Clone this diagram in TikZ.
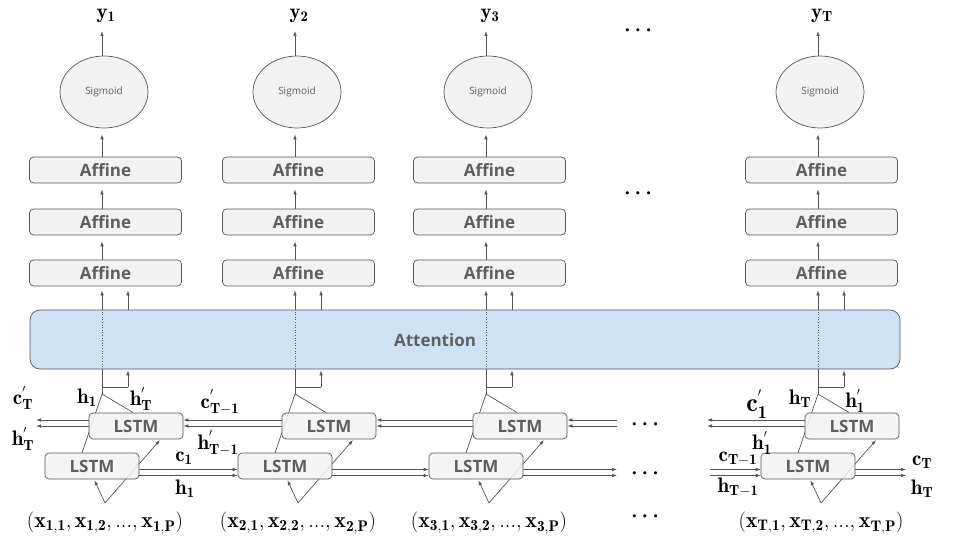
\documentclass[tikz,border=0pt]{standalone}
\usepackage{fontspec}
\newfontfamily\boxfont{Open Sans}
\usetikzlibrary{arrows.meta,calc,shapes.geometric}
\definecolor{lnc}{HTML}{555555}
\definecolor{bx}{HTML}{F2F2F2}
\definecolor{tx}{HTML}{5F5F5F}
\definecolor{attc}{HTML}{CFE2F3}
\tikzset{
  ln/.style={draw=lnc, line width=0.7pt},
  arr/.style={ln, -{Latex[length=5pt,width=3.6pt]}},
  afbox/.style={draw=lnc, fill=bx, rounded corners=4pt, minimum width=152pt, minimum height=26pt,
    inner sep=0pt, font=\boxfont\bfseries\fontsize{17}{20}\selectfont, text=tx, line width=0.7pt},
  lstmbox/.style={afbox, minimum width=94pt, fill opacity=0.88, text opacity=1},
  sigbox/.style={ellipse, draw=lnc, fill=bx, minimum width=88pt, minimum height=72pt, inner sep=0pt,
    font=\boxfont\fontsize{10}{12}\selectfont, text=tx, line width=0.7pt},
  attbox/.style={draw=lnc, fill=attc, rounded corners=10pt, minimum width=870pt, minimum height=59pt,
    inner sep=0pt, line width=0.7pt},
  lab/.style={inner sep=0pt, font=\fontsize{21}{24}\selectfont},
  inlab/.style={inner sep=0pt, font=\fontsize{22}{26}\selectfont},
  biglab/.style={inner sep=0pt, font=\fontsize{26}{30}\selectfont},
  dots/.style={inner sep=0pt, font=\fontsize{22}{26}\selectfont\boldmath},
}
\begin{document}
\begin{tikzpicture}[x=1pt,y=-1pt]
\useasboundingbox (0,0) rectangle (960,540);

% attention
\node[attbox] (att) at (465,339.5) {};
\node[font=\boxfont\bfseries\fontsize{17}{20}\selectfont, text=tx, inner sep=0pt] (atttxt) at (435,340) {Attention};

\foreach \i/\dx/\lab in {1/0/1, 2/193/2, 3/384/3, 4/716/T} {
  \coordinate (J\i) at (102+\dx,394);
  \coordinate (K\i) at (128+\dx,387);
  \coordinate (A\i) at (105+\dx,503);
  \node[lab] (y\i) at (106+\dx,16) {$\mathbf{y_{\lab}}$};
  \node[sigbox] (s\i) at (104+\dx,92) {Sigmoid};
  \node[afbox] (a\i) at (105.5+\dx,170) {Affine};
  \node[afbox] (b\i) at (105.5+\dx,222) {Affine};
  \node[afbox] (c\i) at (105.5+\dx,273) {Affine};
  \draw[arr] (J\i |- s\i.north) -- (102+\dx,31);
  \draw[arr, shorten >=6pt] (J\i |- a\i.north) -- (J\i |- s\i.south);
  \draw[arr, shorten >=6pt] (J\i |- b\i.north) -- (J\i |- a\i.south);
  \draw[arr, shorten >=6pt] (J\i |- c\i.north) -- (J\i |- b\i.south);
  \draw[arr, shorten >=4pt] (J\i |- att.north) -- (J\i |- c\i.south);
  \draw[arr, shorten >=4pt] (K\i |- att.north) -- (K\i |- c\i.south);
  \draw[lnc, dotted, line width=0.6pt] (J\i |- att.south) -- (J\i |- att.north);
  \draw[ln] (J\i) -- (J\i |- att.south);
  \draw[ln] (J\i |- K\i) -- (K\i);
  \draw[arr, shorten >=1pt] (K\i) -- (K\i |- att.south);
  % lines that pass behind the LSTM boxes
  \draw[ln] (J\i) -- (82+\dx,453);
  \draw[ln] (J\i) -- (133+\dx,412.5);
  \draw[arr] (A\i) -- (160+\dx,440);
  \node[lstmbox] (up\i) at (136+\dx,426) {LSTM};
  \node[lstmbox] (lo\i) at (92+\dx,466) {LSTM};
  \draw[arr, shorten >=1pt] (A\i) -- ([xshift=2pt]lo\i.south);
  \node[inlab] (in\i) at (105+\dx,523) {$(\mathbf{x_{\lab,1}},\mathbf{x_{\lab,2}},...,\mathbf{x_{\lab,P}})$};
}

% free ends
\coordinate (up1l) at (36,426);
\coordinate (lo3r) at (617,466);
\coordinate (up3r) at (617,426);
\coordinate (up4l) at (707,426);
\coordinate (lo4l) at (710,466);
\coordinate (lo4r) at (906,466);

% forward (lower) connections
\foreach \o in {3.5,9.5} {
  \draw[arr] ($(lo1.east)+(0,\o)$) -- ($(lo2.west)+(0,\o)$);
  \draw[arr] ($(lo2.east)+(0,\o)$) -- ($(lo3.west)+(0,\o)$);
  \draw[arr] ($(lo3.east)+(0,\o)$) -- ($(lo3r)+(0,\o)$);
  \draw[arr] ($(lo4l)+(0,\o)$) -- ($(lo4.west)+(0,\o)$);
  \draw[arr] ($(lo4.east)+(0,\o)$) -- ($(lo4r)+(0,\o)$);
}
% backward (upper) connections
\foreach \o in {-6,0} {
  \draw[arr] ($(up1.west)+(0,\o)$) -- ($(up1l)+(0,\o)$);
  \draw[arr] ($(up2.west)+(0,\o)$) -- ($(up1.east)+(0,\o)$);
  \draw[arr] ($(up3.west)+(0,\o)$) -- ($(up2.east)+(0,\o)$);
  \draw[arr] ($(up3r)+(0,\o)$) -- ($(up3.east)+(0,\o)$);
  \draw[arr] ($(up4.west)+(0,\o)$) -- ($(up4l)+(0,\o)$);
}

% labels column 1
\node[lab] (l1) at (23,398) {$\mathbf{c}^{'}_{\mathbf{T}}$};
\node[lab] (l2) at (23,439) {$\mathbf{h}^{'}_{\mathbf{T}}$};
\node[lab] (l3) at (87,398) {$\mathbf{h_1}$};
\node[lab] (l4) at (141,399) {$\mathbf{h}^{'}_{\mathbf{T}}$};
\node[lab] (l5) at (220,402) {$\mathbf{c}^{'}_{\mathbf{T-1}}$};
\node[lab] (l6) at (218,443) {$\mathbf{h}^{'}_{\mathbf{T-1}}$};
\node[lab] (l7) at (184,458) {$\mathbf{c_1}$};
\node[lab] (l8) at (185,489) {$\mathbf{h_1}$};
% labels column T
\node[biglab] (m1) at (757,404) {$\mathbf{c}^{'}_{\mathbf{1}}$};
\node[lab] (m2) at (800,399) {$\mathbf{h_T}$};
\node[lab] (m3) at (855,401) {$\mathbf{h}^{'}_{\mathbf{1}}$};
\node[lab] (m4) at (762,443) {$\mathbf{h}^{'}_{\mathbf{1}}$};
\node[lab] (m5) at (738,459) {$\mathbf{c_{T-1}}$};
\node[lab] (m6) at (738,487) {$\mathbf{h_{T-1}}$};
\node[lab] (m7) at (922,462) {$\mathbf{c_T}$};
\node[lab] (m8) at (922,489) {$\mathbf{h_T}$};

% dots
\node[dots] (d1) at (638,31) {$\cdots$};
\node[dots] (d2) at (638,194) {$\cdots$};
\node[dots] (d3) at (645,425) {$\cdots$};
\node[dots] (d4) at (645,474) {$\cdots$};
\node[dots] (d5) at (645,517) {$\cdots$};
\end{tikzpicture}
\end{document}
